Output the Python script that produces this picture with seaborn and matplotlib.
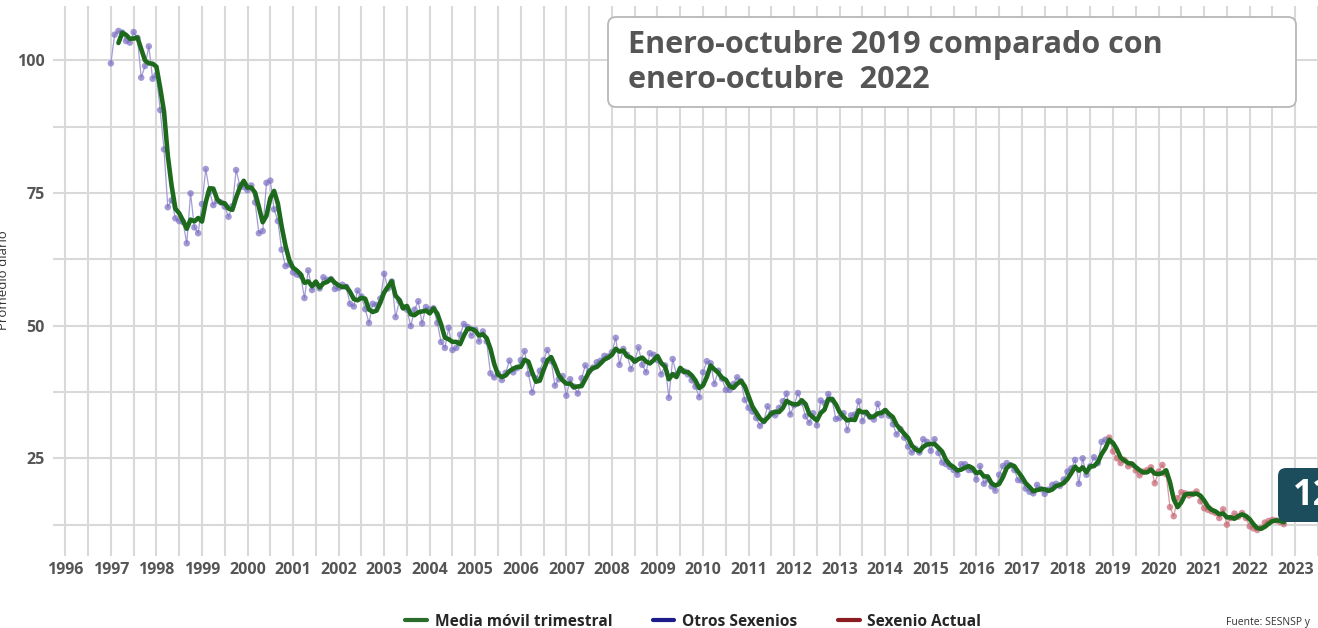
import numpy as np
import pandas as pd
import matplotlib
matplotlib.use("Agg")
import matplotlib.pyplot as plt
from matplotlib.patches import FancyBboxPatch
from matplotlib.lines import Line2D
import seaborn as sns

# Promedio diario mensual, enero 1997 - noviembre 2018
otros_sexenios = [
    99.4, 104.8, 105.5, 105.2, 103.6, 103.3, 105.3, 104.2, 96.7, 98.9, 102.6, 96.5,   # 1997
    97.2, 90.6, 83.2, 72.3, 73.6, 70.2, 69.7, 69.5, 65.5, 74.9, 68.5, 67.4,           # 1998
    72.9, 79.5, 75.2, 72.7, 73.5, 73.2, 72.4, 70.5, 72.5, 79.3, 76.4, 76.1,           # 1999
    75.5, 76.4, 73.2, 67.4, 67.8, 76.9, 77.3, 71.9, 69.7, 64.3, 61.2, 61.5,           # 2000
    60.0, 59.6, 59.4, 55.2, 60.4, 56.7, 57.8, 57.0, 59.1, 58.6, 58.75, 56.9,          # 2001
    57.1, 57.7, 57.3, 54.1, 53.6, 56.6, 55.5, 53.1, 50.5, 54.1, 53.9, 55.1,           # 2002
    59.75, 57.0, 58.3, 51.6, 54.6, 53.5, 53.0, 49.9, 53.0, 54.6, 50.4, 53.5,          # 2003
    53.0, 53.25, 50.5, 46.9, 45.8, 49.6, 45.4, 45.8, 48.3, 50.3, 49.75, 48.1,         # 2004
    49.25, 47.0, 48.9, 47.0, 41.0, 40.25, 41.0, 39.75, 41.1, 43.4, 41.2, 42.0,        # 2005
    43.5, 45.2, 40.9, 37.4, 40.0, 41.5, 43.5, 45.4, 43.3, 38.7, 39.9, 40.5,           # 2006
    36.8, 39.9, 38.5, 37.2, 40.1, 42.5, 41.4, 42.1, 43.1, 43.4, 44.3, 44.2,           # 2007
    45.0, 47.7, 42.6, 45.6, 44.5, 41.8, 43.4, 45.9, 42.6, 41.2, 44.8, 44.5,           # 2008
    43.5, 40.8, 42.5, 36.4, 43.7, 40.8, 41.6, 41.4, 40.8, 39.7, 38.5, 36.5,           # 2009
    41.2, 43.3, 42.9, 39.0, 41.5, 40.0, 37.9, 37.9, 39.0, 40.25, 39.5, 36.0,          # 2010
    34.5, 33.8, 32.6, 31.1, 32.0, 34.8, 33.5, 33.1, 34.5, 35.75, 37.2, 33.25,         # 2011
    35.0, 37.3, 35.5, 32.9, 31.7, 33.5, 31.2, 35.9, 35.4, 37.1, 36.0, 32.4,           # 2012
    32.6, 33.5, 30.3, 33.1, 33.25, 35.75, 32.0, 33.5, 32.8, 32.3, 35.25, 33.1,        # 2013
    33.9, 33.0, 31.4, 29.5, 30.5, 28.9, 27.2, 26.1, 26.8, 26.1, 28.6, 28.1,           # 2014
    26.4, 28.6, 26.0, 24.2, 23.9, 23.4, 22.8, 21.9, 23.9, 23.9, 22.8, 22.8,           # 2015
    21.0, 23.55, 20.2, 21.0, 19.7, 18.9, 21.9, 23.55, 24.1, 23.7, 22.8, 20.9,         # 2016
    20.8, 19.3, 18.7, 18.4, 20.0, 19.2, 18.3, 19.1, 20.0, 20.2, 19.8, 21.0,           # 2017
    22.5, 23.1, 24.7, 20.2, 25.0, 21.9, 23.5, 25.2, 24.1, 28.1, 28.5,                 # 2018 (ene-nov)
]

# Diciembre 2018 - octubre 2022
sexenio_actual = [
    28.9,                                                                             # 2018 dic
    26.3, 25.0, 24.1, 24.7, 23.5, 23.8, 22.7, 21.8, 22.5, 22.8, 23.3, 20.3,           # 2019
    22.5, 23.75, 22.0, 15.8, 14.1, 17.5, 18.6, 18.4, 18.0, 18.3, 18.75, 16.9,         # 2020
    15.6, 15.3, 15.0, 14.7, 13.75, 15.4, 12.5, 13.75, 14.6, 14.0, 14.7, 13.75,        # 2021
    12.2, 11.8, 11.5, 11.9, 12.9, 13.2, 13.4, 13.3, 13.0, 12.6,                       # 2022 (ene-oct)
]

anios = list(range(1996, 2024))
marcas_y = [25, 50, 75, 100]
grupos = ["Otros Sexenios", "Sexenio Actual"]
leyenda = ["Media móvil trimestral", "Otros Sexenios", "Sexenio Actual"]
titulo_caja = ["Enero-octubre 2019 comparado con", "enero-octubre  2022"]
etiqueta_badge = "12"

# armar tabla mensual
valores = otros_sexenios + sexenio_actual
fechas = pd.date_range("1997-01-01", periods=len(valores), freq="MS")
df = pd.DataFrame({
    "fecha": fechas.year + (fechas.month - 1) / 12,
    "valor": valores,
    "grupo": [grupos[0]] * len(otros_sexenios) + [grupos[1]] * len(sexenio_actual),
})
df["media"] = df["valor"].rolling(3).mean()

sns.set_theme(style="white")
plt.rcParams["font.family"] = ["Open Sans", "DejaVu Sans"]

W, H = 1318, 628
fig = plt.figure(figsize=(W / 100, H / 100), dpi=100)
ax = fig.add_axes([53 / W, 72 / H, 1 - 53 / W, 550 / H])

colores = {
    "Otros Sexenios": ("#a49dd4", "#7a70c4"),
    "Sexenio Actual": ("#d59aa2", "#c86673"),
}
for g in grupos:
    sub = df[df["grupo"] == g]
    linea, punto = colores[g]
    sns.lineplot(data=sub, x="fecha", y="valor", color=linea, lw=0.9, ax=ax, legend=False)
    sns.scatterplot(data=sub, x="fecha", y="valor", color=punto, s=22, alpha=0.7,
                    edgecolor="none", ax=ax, legend=False, zorder=3)
sns.lineplot(data=df.dropna(), x="fecha", y="media", color="#1d6a1d", lw=3.3, ax=ax,
             legend=False, zorder=4)

ax.set_xlim(1995.73, 2023.46)
ax.set_ylim(6.6, 110.2)
ax.set_xticks(anios)
ax.set_xticklabels([str(a) for a in anios])
ax.set_xticks(np.arange(1996.5, 2024, 1), minor=True)
ax.set_yticks(marcas_y)
ax.set_yticklabels([str(v) for v in marcas_y])
ax.set_yticks([12.5, 37.5, 62.5, 87.5], minor=True)
ax.grid(which="both", color="#d9d9d9", lw=1.5)
ax.set_axisbelow(True)
ax.tick_params(which="both", length=0, colors="#555555", labelsize=11.5)
ax.tick_params(axis="x", pad=4.5)
ax.tick_params(axis="y", pad=6)
for lab in ax.get_xticklabels() + ax.get_yticklabels():
    lab.set_fontweight("bold")
for s in ax.spines.values():
    s.set_visible(False)
ax.set_xlabel("")
ax.set_ylabel("")

fig.text(4 / W, 1 - 280 / H, "Promedio diario", rotation=90, fontsize=9.5,
         color="#333333", ha="center", va="center")

# caja de texto superior
caja = FancyBboxPatch((6.08, 5.21), 6.88, 0.90, boxstyle="round,pad=0,rounding_size=0.08",
                      transform=fig.dpi_scale_trans, fc="white", ec="#b8b8b8", lw=1.3, zorder=5)
fig.add_artist(caja)
fig.text(628 / W, 1 - 45 / H, titulo_caja[0], fontsize=22, fontweight="bold",
         color="#555555", va="center", zorder=6)
fig.text(628 / W, 1 - 80 / H, titulo_caja[1], fontsize=22, fontweight="bold",
         color="#555555", va="center", zorder=6)

# etiqueta del último valor (cortada en el borde, como en el original)
badge = FancyBboxPatch((12.78, 1.06), 0.8, 0.54, boxstyle="round,pad=0,rounding_size=0.08",
                       transform=fig.dpi_scale_trans, fc="#1b4d5c", ec="none", zorder=5)
fig.add_artist(badge)
fig.text(1293 / W, 1 - 496 / H, etiqueta_badge, fontsize=26, fontweight="bold",
         color="white", va="center", ha="left", zorder=6)

handles = [Line2D([], [], color="#2b6b2b", lw=3),
           Line2D([], [], color="#1b1b8a", lw=3),
           Line2D([], [], color="#8b1c24", lw=3)]
fig.legend(handles, leyenda, loc="center", bbox_to_anchor=(0.526, 0.01), ncol=3,
           frameon=False, handlelength=1.4, columnspacing=2.6, handletextpad=0.5,
           prop={"size": 11.2, "weight": "bold"})

fig.text(1226 / W, 1 - 622 / H, "Fuente: SESNSP y", fontsize=7.5, color="#333333", va="center")

fig.savefig("out.png", dpi=100)
